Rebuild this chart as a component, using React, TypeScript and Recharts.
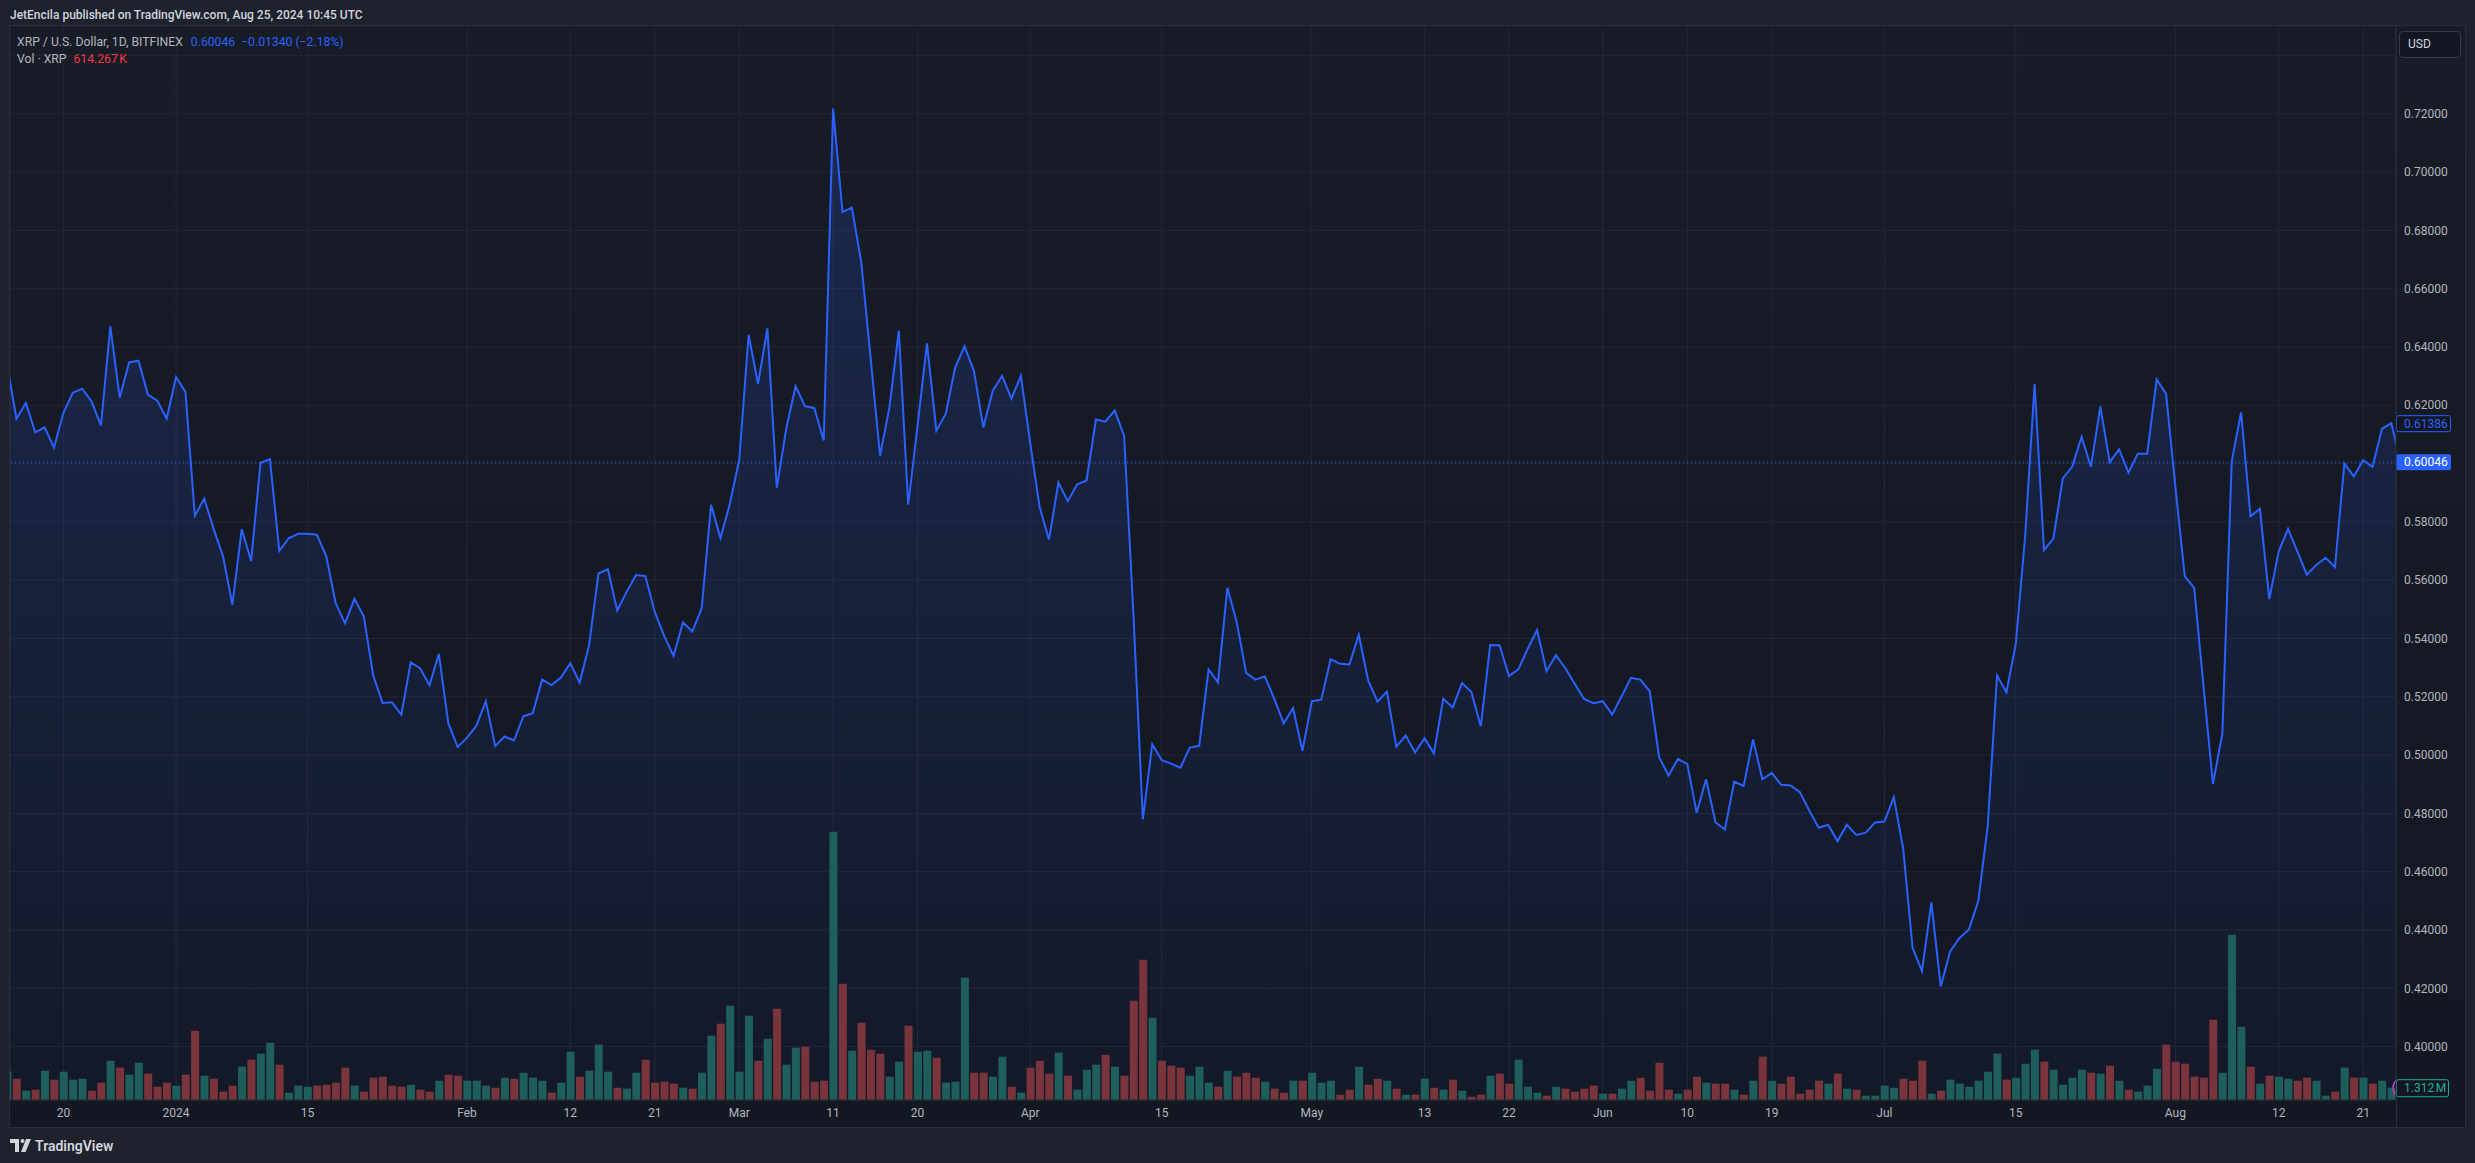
import React from 'react';
import {
  ComposedChart,
  Area,
  Line,
  Bar,
  Cell,
  XAxis,
  YAxis,
  CartesianGrid,
  ReferenceLine
} from 'recharts';

// one close per day, day 0 = 14 Dec 2023 ... day 255 = 25 Aug 2024
const closes = [
  0.634, 0.6154, 0.6208, 0.6107, 0.6124, 0.6055, 0.6174, 0.6243, 0.6257, 0.6213,
  0.6131, 0.6471, 0.6226, 0.6347, 0.6353, 0.6237, 0.6216, 0.6154, 0.6297, 0.6246,
  0.5821, 0.588, 0.5776, 0.5683, 0.5516, 0.5775, 0.5666, 0.6003, 0.6015, 0.5701,
  0.5744, 0.5759, 0.5759, 0.5756, 0.5683, 0.5522, 0.5452, 0.5536, 0.5476, 0.5274,
  0.5179, 0.5181, 0.5139, 0.5318, 0.5298, 0.524, 0.5347, 0.511, 0.5028, 0.506,
  0.5101, 0.5185, 0.5031, 0.5064, 0.505, 0.5133, 0.5144, 0.5259, 0.524, 0.5266,
  0.5315, 0.5249, 0.5377, 0.5623, 0.5638, 0.5496, 0.556, 0.5618, 0.5614, 0.5491,
  0.5409, 0.534, 0.5455, 0.5424, 0.5504, 0.5859, 0.5744, 0.5862, 0.6013, 0.6441,
  0.6274, 0.6464, 0.5917, 0.6119, 0.6266, 0.6197, 0.619, 0.6079, 0.7218, 0.6863,
  0.6878, 0.669, 0.6361, 0.6027, 0.6193, 0.6456, 0.5859, 0.6131, 0.6412, 0.6113,
  0.6171, 0.6329, 0.6402, 0.6318, 0.6124, 0.6249, 0.6301, 0.6223, 0.6301, 0.607,
  0.5851, 0.5739, 0.5935, 0.5871, 0.5929, 0.5942, 0.6151, 0.6144, 0.6182, 0.6096,
  0.548, 0.478, 0.5037, 0.4983, 0.4971, 0.4957, 0.5026, 0.5032, 0.5294, 0.525,
  0.5574, 0.5456, 0.5282, 0.5259, 0.527, 0.5193, 0.5109, 0.5161, 0.5015, 0.5185,
  0.519, 0.5329, 0.5313, 0.5311, 0.5413, 0.5256, 0.5183, 0.5218, 0.5029, 0.5067,
  0.5009, 0.5058, 0.5006, 0.5193, 0.5163, 0.5247, 0.5216, 0.5099, 0.5378, 0.5377,
  0.5271, 0.5294, 0.5365, 0.5429, 0.5288, 0.5343, 0.5299, 0.5245, 0.5193, 0.5178,
  0.5185, 0.5139, 0.5202, 0.5265, 0.5259, 0.5219, 0.4993, 0.493, 0.4987, 0.4969,
  0.4802, 0.4917, 0.477, 0.4745, 0.4909, 0.4894, 0.5054, 0.4917, 0.4939, 0.4898,
  0.4896, 0.4873, 0.4809, 0.4751, 0.4761, 0.4705, 0.4761, 0.4726, 0.4734, 0.4769,
  0.4772, 0.4856, 0.4679, 0.4339, 0.4259, 0.4495, 0.4206, 0.4327, 0.4373, 0.4402,
  0.45, 0.4755, 0.5273, 0.5215, 0.5383, 0.5755, 0.6273, 0.5703, 0.5743, 0.5949,
  0.5989, 0.6092, 0.5989, 0.6196, 0.6005, 0.6049, 0.5969, 0.6034, 0.6034, 0.6289,
  0.624, 0.592, 0.5613, 0.5574, 0.5234, 0.4901, 0.5074, 0.6008, 0.6176, 0.5819,
  0.5845, 0.5535, 0.5698, 0.5776, 0.5698, 0.5619, 0.5652, 0.5677, 0.5645, 0.6,
  0.5956, 0.6012, 0.5989, 0.6119, 0.61386, 0.60046
];

// daily volume, millions of XRP
const volumesM = [
  3.06, 2.27, 0.99, 1.1, 3.13, 2.17, 3.02, 2.17, 2.27, 0.99,
  1.85, 4.19, 3.45, 2.7, 3.98, 2.81, 1.42, 1.85, 1.53, 2.7,
  7.39, 2.59, 2.27, 0.89, 1.53, 3.55, 4.3, 4.94, 6.11, 3.77,
  0.78, 1.53, 1.42, 1.53, 1.63, 1.85, 3.45, 1.53, 0.89, 2.38,
  2.49, 1.53, 1.42, 1.63, 1.1, 0.89, 2.06, 2.7, 2.59, 2.06,
  2.06, 1.53, 1.31, 2.38, 2.27, 2.91, 2.38, 2.06, 0.78, 1.85,
  5.15, 2.49, 3.13, 5.9, 3.02, 1.31, 1.21, 2.91, 4.3, 1.85,
  1.95, 1.74, 1.31, 1.21, 2.91, 6.86, 8.14, 10.06, 3.02, 8.99,
  4.19, 6.54, 9.74, 3.77, 5.58, 5.69, 1.95, 2.06, 28.63, 12.41,
  5.26, 8.25, 5.37, 4.94, 2.49, 4.09, 7.93, 5.15, 5.26, 4.51,
  1.85, 1.95, 13.05, 2.91, 2.91, 2.49, 4.62, 1.42, 0.78, 3.45,
  4.19, 2.81, 5.05, 2.59, 1.1, 3.23, 3.77, 4.83, 3.55, 2.59,
  10.6, 14.97, 8.78, 4.19, 3.66, 3.45, 2.59, 3.55, 1.85, 1.42,
  3.13, 2.49, 2.91, 2.38, 1.95, 1.21, 0.78, 2.06, 2.06, 2.91,
  1.85, 2.06, 0.57, 1.1, 3.55, 1.63, 2.27, 2.06, 1.21, 0.57,
  0.57, 2.27, 1.31, 1.1, 2.17, 0.99, 0.35, 0.57, 2.59, 2.81,
  1.74, 4.3, 1.42, 0.78, 0.46, 1.42, 1.21, 0.89, 1.21, 1.53,
  0.67, 0.67, 1.21, 2.06, 2.38, 0.99, 3.98, 1.1, 0.67, 1.1,
  2.49, 1.85, 1.74, 1.74, 1.1, 0.57, 2.06, 4.62, 2.06, 1.74,
  2.49, 0.67, 1.1, 2.06, 1.74, 2.81, 1.21, 1.1, 0.46, 0.46,
  1.53, 1.31, 2.27, 2.06, 4.19, 0.67, 0.99, 2.17, 1.74, 1.42,
  2.06, 3.02, 4.94, 2.17, 2.38, 3.87, 5.37, 4.09, 3.23, 1.63,
  2.38, 3.23, 2.91, 2.81, 3.66, 2.06, 1.1, 0.89, 1.53, 3.34,
  5.9, 4.09, 3.87, 2.49, 2.38, 8.57, 2.91, 17.64, 7.82, 3.55,
  1.74, 2.59, 2.49, 2.27, 2.06, 2.38, 2.06, 0.46, 0.89, 3.45,
  2.38, 2.38, 1.74, 2.06, 1.312, 0.614
];

// volume bar colour per day: U = up (teal), D = down (red)
const volumeDirs =
  'UDUDUDUUUD' + 'DUDUUDDDUD' + 'DUDDDUDUUD' + 'UUUDDDDUDD' + 'DDDUDDUDDU' +
  'UUDUDUUUDU' + 'UDUUUDUUDD' + 'DDUDUUDUUU' + 'DUDUUDDDUD' + 'UDDDUUDUUD' +
  'UUUDDUUDUD' + 'DDUDUUUDUD' + 'DDUDDDUUUD' + 'UDDDUDDUDU' + 'UUDDUDDUDU' +
  'DUDUDUDDUD' + 'DUUUDUDDDD' + 'UDUUDDDDUD' + 'DUDDUDUDUD' + 'DDDDUDUDUU' +
  'UUDDDUDUUU' + 'UUUDUUUDUU' + 'UUDUDUDUUU' + 'DDDDDDUUUD' + 'UDUUDDUUDU' +
  'DUDUUD';

const timeTickDays = [6, 18, 32, 49, 60, 69, 78, 88, 97, 109, 123, 139, 151, 160, 170, 179, 188, 200, 214, 231, 242, 251];
const timeTickLabels = ['20', '2024', '15', 'Feb', '12', '21', 'Mar', '11', '20', 'Apr', '15', 'May', '13', '22', 'Jun', '10', '19', 'Jul', '15', 'Aug', '12', '21'];
const priceTicks = [0.4, 0.42, 0.44, 0.46, 0.48, 0.5, 0.52, 0.54, 0.56, 0.58, 0.6, 0.62, 0.64, 0.66, 0.68, 0.7, 0.72, 0.74];
const hiddenPriceTicks = [0.6, 0.74];

const lastClose = 0.60046;
const prevClose = 0.61386;
const lastVolumeLabel = '1.312\u202FM';
const lastVolume = 1.312;

const FONT = 'Roboto, "Noto Sans", sans-serif';
const UP = '#1f5f5b';
const DOWN = '#7a343c';
const BLUE = '#2962ff';

const rows = closes.map((price, day) => ({
  day,
  price,
  vol: volumesM[day],
  up: volumeDirs[day] === 'U'
}));

function PriceTick(props: any) {
  const { x, y, payload } = props;
  if (hiddenPriceTicks.some((v) => Math.abs(v - payload.value) < 1e-6)) return null;
  return (
    <text x={x} y={y} dy="0.35em" fill="#b2b5be" fontSize={12} fontFamily={FONT} textAnchor="start">
      {payload.value.toFixed(5)}
    </text>
  );
}

function LastPriceTag(props: any) {
  const vb = props.viewBox;
  const x = vb.x + vb.width;
  return (
    <g>
      <rect x={x} y={vb.y - 8} width={55} height={16} rx={2} fill={BLUE} />
      <text x={x + 8} y={vb.y} dy="0.35em" fill="#ffffff" fontSize={12} fontFamily={FONT}>
        {lastClose.toFixed(5)}
      </text>
    </g>
  );
}

function PrevCloseTag(props: any) {
  const vb = props.viewBox;
  const x = vb.x + vb.width;
  return (
    <g>
      <rect x={x + 0.5} y={vb.y - 7.5} width={54} height={16} rx={2} fill="#131722" stroke={BLUE} strokeWidth={1} />
      <text x={x + 8} y={vb.y + 0.5} dy="0.35em" fill={BLUE} fontSize={12} fontFamily={FONT}>
        {prevClose.toFixed(5)}
      </text>
    </g>
  );
}

function VolumeTag(props: any) {
  const vb = props.viewBox;
  const x = vb.x + vb.width;
  return (
    <g>
      <circle cx={x + 7} cy={vb.y} r={10} fill="none" stroke="#b83fd0" strokeWidth={1.5} />
      <rect x={x + 0.5} y={vb.y - 12} width={52} height={24} fill="#131722" />
      <rect x={x + 0.5} y={vb.y - 8} width={52} height={17} rx={2} fill="#131722" stroke="#22ab94" strokeWidth={1} />
      <text x={x + 8} y={vb.y + 0.5} dy="0.35em" fill="#22ab94" fontSize={12} fontFamily={FONT}>
        {lastVolumeLabel}
      </text>
    </g>
  );
}

function TvLogo() {
  return (
    <svg width={22} height={14} viewBox="0 0 22 14">
      <rect x={0} y={0} width={9} height={4} fill="#d1d4dc" />
      <rect x={5} y={0} width={4} height={13} fill="#d1d4dc" />
      <circle cx={12.5} cy={2} r={2} fill="#d1d4dc" />
      <polygon points="16,0 21,0 15.5,13 11,13" fill="#d1d4dc" />
    </svg>
  );
}

export default function App() {
  return (
    <div
      style={{
        position: 'absolute',
        left: 0,
        top: 0,
        width: 2475,
        height: 1163,
        background: '#1e222d',
        overflow: 'hidden',
        fontFamily: FONT
      }}
    >
      <div style={{ position: 'absolute', left: 10, top: 7, fontSize: 12, lineHeight: '16px', color: '#d1d4dc', fontWeight: 500 }}>
        JetEncila published on TradingView.com, Aug 25, 2024 10:45 UTC
      </div>

      <div
        style={{
          position: 'absolute',
          left: 9,
          top: 25,
          width: 2457,
          height: 1103,
          boxSizing: 'border-box',
          border: '1px solid #2a2e39',
          background: 'linear-gradient(180deg, #181c27 0%, #131722 100%)'
        }}
      >
        <ComposedChart width={2455} height={1101} data={rows} margin={{ top: 0, right: 0, bottom: 0, left: 0 }}>
          <defs>
            <linearGradient id="xrpFill" x1="0" y1="0" x2="0" y2="1">
              <stop offset="0%" stopColor={BLUE} stopOpacity={0.3} />
              <stop offset="100%" stopColor={BLUE} stopOpacity={0.04} />
            </linearGradient>
          </defs>
          <CartesianGrid stroke="#232733" strokeWidth={1} />
          <XAxis
            type="number"
            dataKey="day"
            domain={[0.31, 254.5]}
            allowDataOverflow
            ticks={timeTickDays}
            interval={0}
            tickFormatter={(v: number) => timeTickLabels[timeTickDays.indexOf(v)] ?? ''}
            height={27}
            axisLine={{ stroke: '#2a2e39' }}
            tickLine={false}
            tick={{ fill: '#b2b5be', fontSize: 12, fontFamily: FONT }}
          />
          <YAxis
            orientation="right"
            width={69}
            domain={[0.3817, 0.7501]}
            allowDataOverflow
            ticks={priceTicks}
            interval={0}
            axisLine={{ stroke: '#2a2e39' }}
            tickLine={false}
            tick={<PriceTick />}
          />
          <YAxis yAxisId="vol" hide domain={[0, 114.6]} allowDataOverflow />

          <Area
            type="linear"
            dataKey="price"
            stroke="none"
            fill="url(#xrpFill)"
            isAnimationActive={false}
            activeDot={false}
          />
          <Bar dataKey="vol" yAxisId="vol" barSize={8} isAnimationActive={false}>
            {rows.map((r) => (
              <Cell key={r.day} fill={r.up ? UP : DOWN} />
            ))}
          </Bar>
          <Line
            type="linear"
            dataKey="price"
            stroke={BLUE}
            strokeWidth={2}
            dot={false}
            activeDot={false}
            isAnimationActive={false}
          />

          <ReferenceLine y={lastClose} stroke={BLUE} strokeDasharray="1 3" label={(p: any) => <LastPriceTag {...p} />} />
          <ReferenceLine y={prevClose} stroke="none" label={(p: any) => <PrevCloseTag {...p} />} />
          <ReferenceLine yAxisId="vol" y={lastVolume} stroke="none" label={(p: any) => <VolumeTag {...p} />} />
        </ComposedChart>

        <div style={{ position: 'absolute', left: 2386, top: 1074, width: 1, height: 27, background: '#2a2e39' }} />

        <div style={{ position: 'absolute', left: 7, top: 8, fontSize: 12.2, lineHeight: '16px', whiteSpace: 'nowrap' }}>
          <span style={{ color: '#b2b5be' }}>XRP / U.S. Dollar, 1D, BITFINEX</span>
          <span style={{ color: BLUE, marginLeft: 8 }}>0.60046</span>
          <span style={{ color: BLUE, marginLeft: 6 }}>{'\u22120.01340 (\u22122.18%)'}</span>
        </div>
        <div style={{ position: 'absolute', left: 7, top: 25, fontSize: 12.2, lineHeight: '16px', whiteSpace: 'nowrap' }}>
          <span style={{ color: '#b2b5be' }}>Vol · XRP</span>
          <span style={{ color: '#f23645', marginLeft: 7 }}>{'614.267\u202FK'}</span>
        </div>

        <div
          style={{
            position: 'absolute',
            left: 2389,
            top: 5,
            width: 62,
            height: 27,
            boxSizing: 'border-box',
            border: '1px solid #363a45',
            borderRadius: 4,
            background: '#131722',
            color: '#d1d4dc',
            fontSize: 12,
            lineHeight: '25px',
            paddingLeft: 8
          }}
        >
          USD
        </div>
      </div>

      <div style={{ position: 'absolute', left: 10, top: 1139, display: 'flex', alignItems: 'center', gap: 3 }}>
        <TvLogo />
        <span style={{ color: '#d1d4dc', fontSize: 14, fontWeight: 600, lineHeight: '14px' }}>TradingView</span>
      </div>
    </div>
  );
}
